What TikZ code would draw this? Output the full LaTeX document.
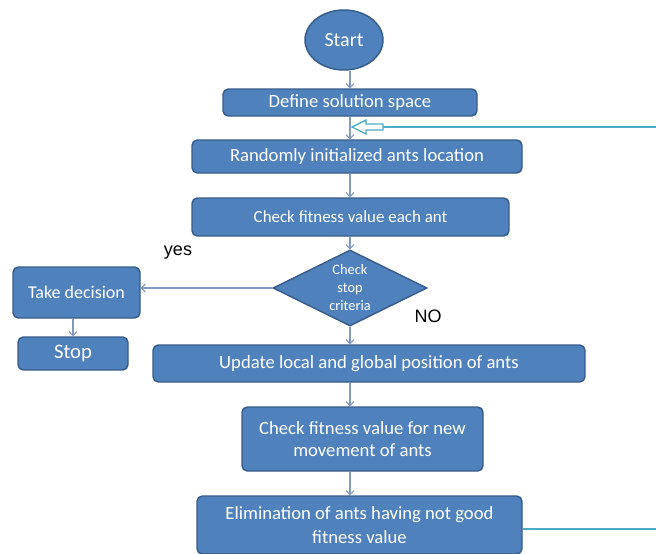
\documentclass[tikz,border=0pt]{standalone}
\usepackage{fontspec}
\setmainfont{Carlito}
\newfontfamily\arialf{Liberation Sans}
\usetikzlibrary{shapes.geometric,arrows.meta}
\definecolor{boxfill}{RGB}{79,129,189}
\definecolor{boxline}{RGB}{56,93,138}
\definecolor{conn}{RGB}{130,155,195}
\definecolor{loopc}{RGB}{75,172,198}
\newcommand\fsz[2]{\fontsize{#1}{#2}\selectfont}
\begin{document}
\begin{tikzpicture}[x=0.75pt,y=-0.75pt,
  sz/.style 2 args={minimum width=#1*0.75pt,minimum height=#2*0.75pt},
  box/.style={draw=boxline,fill=boxfill,line width=1.1pt,rounded corners=4pt,
    text=white,align=center,inner sep=0pt,font=\fsz{14}{17}},
  dia/.style={diamond,draw=boxline,fill=boxfill,line width=1.1pt,text=white,
    align=center,inner sep=0pt,aspect=2,font=\fsz{10.8}{13.5}},
  conn/.style={draw=conn,line width=0.8pt,-{Straight Barb[length=3pt,width=6pt]}},
  loopline/.style={draw=loopc,line width=1.3pt},
  lbl/.style={font=\arialf\fsz{13.5}{16},text=black,inner sep=0pt}]
\useasboundingbox (0,0) rectangle (656,553);
\fill[white] (0,0) rectangle (656,553);
\coordinate (ax) at (350,0);
\node[ellipse,draw=boxline,fill=boxfill,line width=1.1pt,text=white,inner sep=0pt,
  sz={78}{60},font=\fsz{15}{18}] (start) at (344,40) {Start};
\node[box,sz={254}{27}] (define) at (350,102.5) {Define solution space};
\node[box,sz={330}{33}] (random) at (357,156.5) {Randomly initialized ants location};
\node[box,sz={317}{38},font=\fsz{12.7}{15}] (check1) at (350.5,217) {Check fitness value each ant};
\node[dia,sz={154}{76}] (crit) at (350,288) {Check\\stop\\criteria};
\node[box,sz={127}{51},font=\fsz{13.5}{16}] (take) at (76.5,292.5) {Take decision};
\node[box,sz={110}{33},font=\fsz{15.5}{18}] (stop) at (73,353.5) {Stop};
\node[box,sz={432}{37}] (update) at (369,363.5) {Update local and global position of ants};
\node[box,sz={241}{64},font=\fsz{14}{16.5}] (check2) at (362.5,439) {Check fitness value for new\\movement of ants};
\node[box,sz={325}{58},font=\fsz{14}{17.5}] (elim) at (359.5,525) {Elimination of ants having not good\\fitness value};
\node[lbl] (yes) at (178,253) {yes};
\node[lbl] (no) at (428,316) {NO};
% connectors
\draw[conn] (ax |- start.south) -- (ax |- define.north);
\draw[conn] (ax |- define.south) -- (ax |- random.north);
\draw[conn] (ax |- random.south) -- (ax |- check1.north);
\draw[conn] (ax |- check1.south) -- (crit.north);
\draw[conn] (crit.west) -- (take.east |- crit.west);
\draw[conn] (stop.north |- take.south) -- (stop.north);
\draw[conn] (crit.south) -- (ax |- update.north);
\draw[conn] (ax |- update.south) -- (ax |- check2.north);
\draw[conn] (ax |- check2.south) -- (ax |- elim.north);
% loop back
\coordinate (rettail) at (383,127);
\coordinate (retcorner) at (659,127);
\draw[loopline] (elim.east |- 0,529) -- (659,529) -- (retcorner) -- (rettail);
\draw[draw=loopc,fill=white,line width=1pt]
  (352,127) -- (366,120) -- (366,124) -- (rettail |- 0,124) -- (rettail |- 0,130)
  -- (366,130) -- (366,134) -- cycle;
\end{tikzpicture}
\end{document}
